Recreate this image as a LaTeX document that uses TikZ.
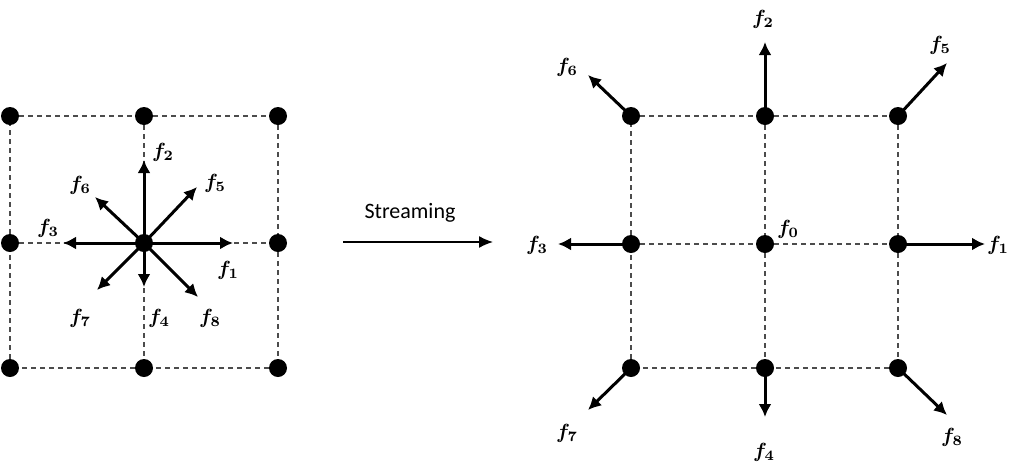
\documentclass[tikz,border=0pt]{standalone}
\usepackage{amsmath,bm}
\usepackage{fontspec}
\usetikzlibrary{arrows.meta}
\newfontfamily\carlito{Carlito}

\begin{document}
\begin{tikzpicture}[x=1pt,y=-1pt,>={Latex[length=13pt,width=13pt]},
 dot/.style={circle,fill=black,inner sep=0pt,minimum size=18pt},
 lattice/.style={line width=1.3pt,dash pattern=on 5pt off 4pt,black!70},
 vec/.style={->,line width=3pt},
 lab/.style={inner sep=0pt,scale=2.05}]
 \useasboundingbox (0,0) rectangle (1010,472);
 % left lattice, before streaming
 \node[dot] (lnw) at (10,116) {}; \node[dot] (ln) at (144,116) {}; \node[dot] (lne) at (278,116) {};
 \node[dot] (lw) at (10,243) {}; \node[dot] (lc) at (144,243) {}; \node[dot] (le) at (278,243) {};
 \node[dot] (lsw) at (10,368) {}; \node[dot] (ls) at (144,368) {}; \node[dot] (lse) at (278,368) {};
 \draw[lattice] (lnw)--(ln)--(lne)--(le)--(lse)--(ls)--(lsw)--(lw)--(lnw);
 \draw[lattice] (ln)--(lc)--(ls); \draw[lattice] (lw)--(lc)--(le);
 \coordinate (l1) at (233,243); \coordinate (l2) at (144,160);
 \coordinate (l3) at (63,243); \coordinate (l4) at (144,287);
 \coordinate (l5) at (197,187); \coordinate (l6) at (95,197);
 \coordinate (l7) at (97,290); \coordinate (l8) at (198,297);
 \draw[vec] (lc.center)--(l1); \draw[vec] (lc.center)--(l2);
 \draw[vec] (lc.center)--(l3); \draw[vec] (lc.center)--(l4);
 \draw[vec] (lc.center)--(l5); \draw[vec] (lc.center)--(l6);
 \draw[vec] (lc.center)--(l7); \draw[vec] (lc.center)--(l8);
 \node[lab] (lf1) at (228,270) {$\bm{f_1}$}; \node[lab] (lf2) at (163,152) {$\bm{f_2}$};
 \node[lab] (lf3) at (48,228) {$\bm{f_3}$}; \node[lab] (lf4) at (159,318) {$\bm{f_4}$};
 \node[lab] (lf5) at (215,183) {$\bm{f_5}$}; \node[lab] (lf6) at (80,185) {$\bm{f_6}$};
 \node[lab] (lf7) at (80,318) {$\bm{f_7}$}; \node[lab] (lf8) at (210,318) {$\bm{f_8}$};
 % streaming step
 \coordinate (s0) at (343,242); \coordinate (s1) at (493,242);
 \draw[-{Latex[length=14pt,width=12pt]},line width=1.5pt] (s0)--(s1);
 \node[font=\carlito\fontsize{22}{26}\selectfont] (stream) at (410,213) {Streaming};
 % right lattice, after streaming
 \node[dot] (rnw) at (631,116) {}; \node[dot] (rn) at (765,116) {}; \node[dot] (rne) at (898,116) {};
 \node[dot] (rw) at (631,244) {}; \node[dot] (rc) at (765,244) {}; \node[dot] (re) at (898,244) {};
 \node[dot] (rsw) at (631,368) {}; \node[dot] (rs) at (765,368) {}; \node[dot] (rse) at (898,368) {};
 \draw[lattice] (rnw)--(rn)--(rne)--(re)--(rse)--(rs)--(rsw)--(rw)--(rnw);
 \draw[lattice] (rn)--(rc)--(rs); \draw[lattice] (rw)--(rc)--(re);
 \coordinate (r1) at (985,244); \coordinate (r2) at (765,42);
 \coordinate (r3) at (558,244); \coordinate (r4) at (765,417);
 \coordinate (r5) at (947,63); \coordinate (r6) at (588,75);
 \coordinate (r7) at (588,410); \coordinate (r8) at (947,415);
 \draw[vec] (re.center)--(r1); \draw[vec] (rn.center)--(r2);
 \draw[vec] (rw.center)--(r3); \draw[vec] (rs.center)--(r4);
 \draw[vec] (rne.center)--(r5); \draw[vec] (rnw.center)--(r6);
 \draw[vec] (rsw.center)--(r7); \draw[vec] (rse.center)--(r8);
 \node[lab] (rf0) at (788,229) {$\bm{f_0}$};
 \node[lab] (rf1) at (998,245) {$\bm{f_1}$}; \node[lab] (rf2) at (763,19) {$\bm{f_2}$};
 \node[lab] (rf3) at (537,245) {$\bm{f_3}$}; \node[lab] (rf4) at (764,452) {$\bm{f_4}$};
 \node[lab] (rf5) at (940,45) {$\bm{f_5}$}; \node[lab] (rf6) at (567,67) {$\bm{f_6}$};
 \node[lab] (rf7) at (567,433) {$\bm{f_7}$}; \node[lab] (rf8) at (952,437) {$\bm{f_8}$};
\end{tikzpicture}
\end{document}
